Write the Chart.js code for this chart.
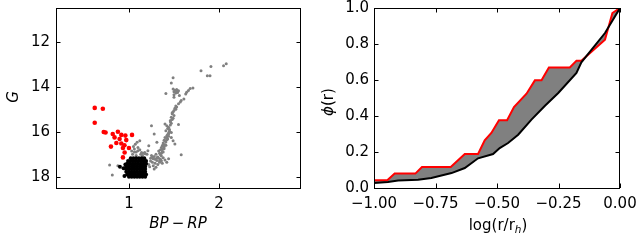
<!DOCTYPE html>
<html>
<head>
<meta charset="utf-8">
<script src="https://cdn.jsdelivr.net/npm/chart.js"></script>
<style>
body{margin:0;background:#fff;width:636px;height:241px;overflow:hidden;position:relative}
.box{position:absolute;top:0;width:318px;height:241px}
#left{left:0}
#right{left:318px}
</style>
</head>
<body>

<div class="box" id="left"><canvas id="cmd" width="318" height="241"></canvas></div>
<div class="box" id="right"><canvas id="phi" width="318" height="241"></canvas></div>

<script>
/* =========================
   DATA - left panel (CMD)
========================= */
const grayX = [2.08,2.05,1.91,1.80,1.87,1.90,1.49,1.47,1.71,1.68,1.66,1.64,1.63,1.49,1.51,1.53,1.55,1.50,1.52,1.54,
  1.41,1.56,1.50,1.61,1.58,1.57,1.55,1.53,1.51,1.50,1.52,1.49,1.48,1.50,1.47,1.48,1.46,1.47,1.25,1.40,
  1.42,1.55,1.44,1.45,1.43,1.41,1.47,1.28,1.44,1.42,1.40,1.47,1.43,1.39,1.49,1.41,1.38,1.51,1.40,1.37,
  1.36,1.39,1.35,1.33,1.37,1.34,1.30,1.58,1.31,
  1.21,1.175,1.14,1.10,1.06,1.10,1.22,1.07,1.09,1.12,1.05,1.03,1.04,1.08,1.15,1.20,1.25,1.28,1.32,1.36,
  1.27,1.31,1.35,1.38,1.24,1.29,1.34,1.40,1.42,1.44,1.27,1.30,1.28,1.22,1.36,1.23,
  0.785,0.815,0.877,
  1.52,1.49,1.46,1.45,1.44,1.42,1.41,1.39,1.38,1.36,1.35,1.33,1.31,1.29,1.26,1.24,1.18,1.13,1.08,1.16,
  1.12,1.06,1.34,1.37,1.32,1.26,1.53,1.48,1.50,1.46,
  1.43,1.40,1.38,1.42,1.39,1.37,1.45,1.44];
const grayY = [12.98,13.07,13.10,13.29,13.51,13.51,13.60,13.83,14.05,14.08,14.17,14.24,14.32,14.10,14.15,14.12,14.18,14.22,14.28,14.25,
  14.30,14.39,14.47,14.54,14.61,14.68,14.76,14.90,14.95,15.05,15.00,15.12,15.20,15.28,15.35,15.45,15.55,15.62,15.73,15.65,
  15.73,15.68,15.80,15.90,15.85,15.95,16.03,16.10,16.10,16.18,16.25,16.25,16.32,16.38,16.40,16.45,16.50,16.54,16.58,16.62,
  16.70,16.75,16.80,16.85,16.88,16.95,17.00,17.02,16.47,
  16.84,16.92,16.92,16.84,16.77,16.70,16.62,16.55,16.47,16.40,16.65,16.85,17.00,17.05,17.05,17.00,17.05,17.10,17.12,17.08,
  17.20,17.28,17.22,17.15,17.30,17.40,17.35,17.25,17.35,17.20,17.51,17.58,17.66,17.45,17.29,17.55,
  17.48,17.92,17.51,
  14.85,15.40,15.70,16.00,16.20,16.35,16.60,16.68,16.90,16.95,17.02,17.18,17.15,17.22,17.12,17.18,16.98,17.00,16.90,16.95,
  16.80,16.90,17.30,17.40,17.45,17.35,14.20,15.15,14.35,15.50,
  16.12,16.40,16.55,16.28,16.62,16.78,15.98,16.05];

const redX = [0.62,0.71,0.62,0.72,0.74,0.82,0.877,0.84,0.915,0.896,0.96,0.97,1.034,0.80,0.915,0.95,1.0,0.933,0.952,0.933,0.86];
const redY = [14.94,14.98,15.60,16.01,16.03,16.10,16.00,16.25,16.14,16.32,16.17,16.37,16.14,16.66,16.52,16.60,16.72,16.72,16.92,17.14,16.50];

const blackX = [1.02,1.05,1.08,1.11,1.14,1.17,
  0.99,1.02,1.05,1.08,1.11,1.14,1.17,1.19,
  0.98,1.01,1.04,1.07,1.10,1.13,1.16,1.19,
  0.97,1.00,1.03,1.06,1.09,1.12,1.15,1.18,
  0.97,1.00,1.03,1.06,1.09,1.12,1.15,1.18,
  0.97,1.00,1.03,1.06,1.09,1.12,1.15,1.18,
  0.98,1.01,1.04,1.07,1.10,1.13,1.16,1.19,
  1.00,1.03,1.06,1.09,1.12,1.15,1.18,
  0.90,0.94,0.95,0.96];
const blackY = [17.18,17.18,17.18,17.18,17.18,17.18,
  17.30,17.30,17.30,17.30,17.30,17.30,17.30,17.30,
  17.42,17.42,17.42,17.42,17.42,17.42,17.42,17.42,
  17.54,17.54,17.54,17.54,17.54,17.54,17.54,17.54,
  17.66,17.66,17.66,17.66,17.66,17.66,17.66,17.66,
  17.78,17.78,17.78,17.78,17.78,17.78,17.78,17.78,
  17.90,17.90,17.90,17.90,17.90,17.90,17.90,17.90,
  18.00,18.00,18.00,18.00,18.00,18.00,18.00,
  17.55,17.62,17.97,17.45];

const cmdXTicks = [1, 2];
const cmdYTicks = [12, 14, 16, 18];

/* =========================
   DATA - right panel (phi)
========================= */
const redLogR = [-1.0,-0.946,-0.916,-0.832,-0.805,-0.688,-0.631,-0.577,-0.550,-0.523,-0.492,-0.459,-0.431,-0.380,-0.346,-0.319,-0.289,-0.204,-0.177,-0.157,-0.061,-0.031,0];
const redPhi = [0.043,0.043,0.080,0.080,0.117,0.117,0.189,0.189,0.265,0.306,0.376,0.376,0.45,0.524,0.598,0.598,0.670,0.670,0.707,0.707,0.824,0.972,1.0];

const blackLogR = [-1.0,-0.943,-0.902,-0.821,-0.767,-0.685,-0.631,-0.577,-0.516,-0.489,-0.455,-0.414,-0.360,-0.305,-0.251,-0.177,-0.157,-0.061,0];
const blackPhi = [0.028,0.033,0.041,0.046,0.056,0.083,0.111,0.165,0.189,0.222,0.25,0.296,0.380,0.457,0.528,0.639,0.698,0.861,1.0];

const phiXTicks = [-1, -0.75, -0.5, -0.25, 0];
const phiYTicks = [0, 0.2, 0.4, 0.6, 0.8, 1.0];

/* =========================
   HELPERS
========================= */
const FONT = "DejaVu Sans";
const pts = (xs, ys) => xs.map((x, i) => ({x: x, y: ys[i]}));
const minus = s => s.replace("-", "\u2212");

// frame + inward ticks on all four sides
const frame = {
  id: "frame",
  afterDraw(chart) {
    const {ctx, chartArea: a, scales} = chart;
    const L = 4.5;
    ctx.save();
    ctx.strokeStyle = "#000";
    ctx.lineWidth = 1;
    ctx.beginPath();
    scales.x.ticks.forEach(t => {
      const p = Math.round(scales.x.getPixelForValue(t.value)) + 0.5;
      ctx.moveTo(p, a.bottom); ctx.lineTo(p, a.bottom - L);
      ctx.moveTo(p, a.top); ctx.lineTo(p, a.top + L);
    });
    scales.y.ticks.forEach(t => {
      const p = Math.round(scales.y.getPixelForValue(t.value)) + 0.5;
      ctx.moveTo(a.left, p); ctx.lineTo(a.left + L, p);
      ctx.moveTo(a.right, p); ctx.lineTo(a.right - L, p);
    });
    ctx.stroke();
    ctx.strokeRect(a.left + 0.5, a.top + 0.5, a.right - a.left - 1, a.bottom - a.top);
    ctx.restore();
  }
};

// rich text: parts = [[text, font, dy]]
function rich(ctx, parts, x, y, rot) {
  ctx.save();
  ctx.translate(x, y);
  if (rot) ctx.rotate(-Math.PI / 2);
  ctx.fillStyle = "#000";
  ctx.textBaseline = "middle";
  ctx.textAlign = "left";
  let w = 0;
  parts.forEach(p => { ctx.font = p[1]; w += ctx.measureText(p[0]).width; });
  let cx = -w / 2;
  parts.forEach(p => {
    ctx.font = p[1];
    ctx.fillText(p[0], cx, p[2] || 0);
    cx += ctx.measureText(p[0]).width;
  });
  ctx.restore();
}

const IT = "italic 15px " + FONT;
const RM = "15px " + FONT;

function titles(list) {
  return {
    id: "titles",
    afterDraw(chart) {
      list.forEach(t => rich(chart.ctx, t.parts, t.x, t.y, t.rot));
    }
  };
}

// no extra label padding: layout.padding alone sets the plot box
function noPad(s) {
  s.paddingLeft = 0; s.paddingRight = 0; s.paddingTop = 0; s.paddingBottom = 0;
}

function axis(min, max, tickVals, fmt, pad, reverse, size) {
  return {
    type: "linear",
    min: min, max: max, reverse: !!reverse,
    grid: {display: false, drawTicks: false},
    border: {display: false},
    afterBuildTicks: s => { s.ticks = tickVals.map(v => ({value: v})); },
    afterFit: s => {
      if (s.isHorizontal()) s.height = size; else s.width = size;
      noPad(s);
    },
    ticks: {color: "#000", font: {family: FONT, size: 15}, padding: pad, callback: fmt, maxRotation: 0, autoSkip: false}
  };
}

const base = {
  responsive: false,
  animation: false,
  events: [],
  plugins: {legend: {display: false}, tooltip: {enabled: false}}
};

/* =========================
   LEFT: CMD
========================= */
new Chart(document.getElementById("cmd"), {
  type: "scatter",
  data: {
    datasets: [
      {data: pts(blackX, blackY), backgroundColor: "#000", borderWidth: 0, pointRadius: 2, order: 1},
      {data: pts(redX, redY), backgroundColor: "#ff0000", borderWidth: 0, pointRadius: 2.3, order: 2},
      {data: pts(grayX, grayY), backgroundColor: "#808080", borderWidth: 0, pointRadius: 1.5, order: 3}
    ]
  },
  options: Object.assign({}, base, {
    layout: {padding: {top: 8, right: 17, left: 0, bottom: 0}},
    scales: {
      x: axis(0.19, 2.91, cmdXTicks, v => String(v), 7, false, 53),
      y: axis(10.5, 18.5, cmdYTicks, v => String(v), 6, true, 56)
    }
  }),
  plugins: [frame, titles([
    {parts: [["BP", IT], ["\u2009\u2212\u2009", RM], ["RP", IT]], x: 178, y: 224},
    {parts: [["G", IT]], x: 14, y: 97, rot: true}
  ])]
});

/* =========================
   RIGHT: phi(r)
========================= */
new Chart(document.getElementById("phi"), {
  type: "line",
  data: {
    datasets: [
      {data: pts(blackLogR, blackPhi), borderColor: "#000", borderWidth: 2, pointRadius: 0, tension: 0, fill: false},
      {data: pts(redLogR, redPhi), borderColor: "#ff0000", borderWidth: 2, pointRadius: 0, tension: 0,
       fill: {target: 0, above: "#808080", below: "#808080"}}
    ]
  },
  options: Object.assign({}, base, {
    layout: {padding: {top: 8, right: 16, left: 0, bottom: 0}},
    scales: {
      x: axis(-1, 0, phiXTicks, v => minus(v.toFixed(2)), 7, false, 53),
      y: axis(0, 1, phiYTicks, v => v.toFixed(1), 5, false, 56)
    }
  }),
  plugins: [frame, titles([
    {parts: [["log(r/r", RM], ["h", "italic 10.5px " + FONT, 4], [")", RM]], x: 180, y: 226},
    {parts: [["\u03D5", IT], ["(r)", RM]], x: 11, y: 102, rot: true}
  ])]
});
</script>

</body>
</html>
